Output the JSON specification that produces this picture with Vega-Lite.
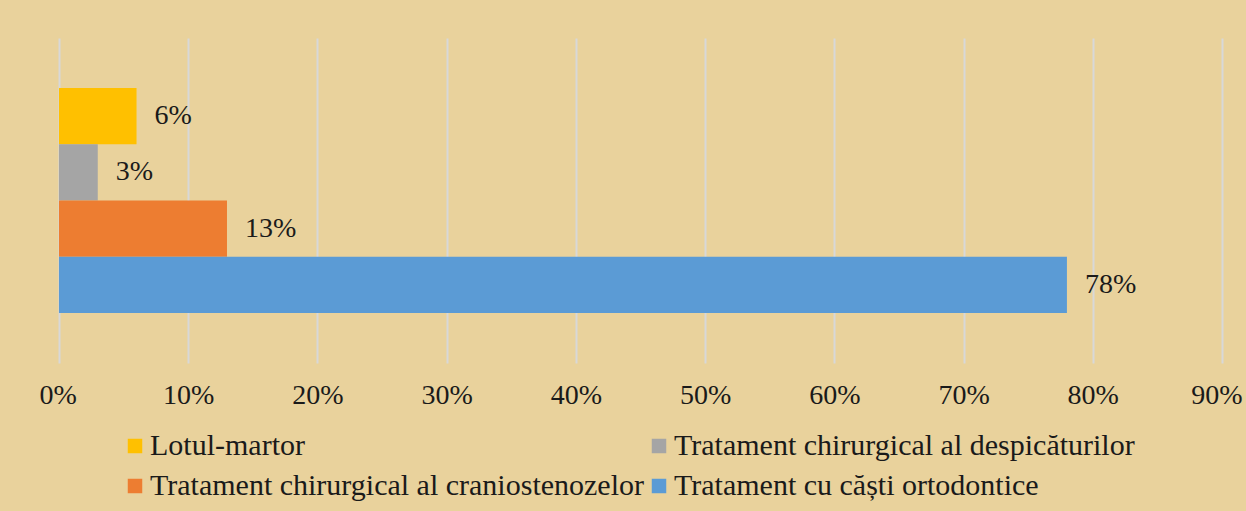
{
  "$schema": "https://vega.github.io/schema/vega-lite/v6.json",
  "width": 1163,
  "height": 325,
  "autosize": {"type": "none"},
  "padding": {"left": 59, "top": 38, "right": 24, "bottom": 148},
  "background": "#E9D29C",
  "config": {
    "view": {"stroke": null},
    "font": "Liberation Serif",
    "text": {"font": "Liberation Serif"}
  },
  "data": {
    "values": [
      {"series": "Lotul-martor", "value": 0.06},
      {"series": "Tratament chirurgical al despicăturilor", "value": 0.03},
      {"series": "Tratament chirurgical al craniostenozelor", "value": 0.13},
      {"series": "Tratament cu căști ortodontice", "value": 0.78}
    ]
  },
  "encoding": {
    "y": {
      "field": "series",
      "type": "nominal",
      "sort": ["Lotul-martor", "Tratament chirurgical al despicăturilor", "Tratament chirurgical al craniostenozelor", "Tratament cu căști ortodontice"],
      "scale": {"paddingInner": 0, "paddingOuter": 0.89},
      "axis": null
    },
    "x": {
      "field": "value",
      "type": "quantitative",
      "scale": {"domain": [0, 0.9], "nice": false},
      "axis": {
        "title": null,
        "format": ".0%",
        "values": [0, 0.1, 0.2, 0.3, 0.4, 0.5, 0.6, 0.7, 0.8, 0.9],
        "domain": false,
        "ticks": false,
        "grid": true,
        "gridColor": "#D8D8D8",
        "gridWidth": 2,
        "labelFont": "Liberation Serif",
        "labelFontSize": 28,
        "labelColor": "#1a1a1a",
        "labelPadding": 18,
        "labelFlush": true,
        "labelFlushOffset": 20
      }
    }
  },
  "layer": [
    {
      "mark": {"type": "bar"},
      "encoding": {
        "color": {
          "field": "series",
          "type": "nominal",
          "scale": {
            "domain": ["Lotul-martor", "Tratament chirurgical al despicăturilor", "Tratament chirurgical al craniostenozelor", "Tratament cu căști ortodontice"],
            "range": ["#FFC000", "#A5A5A5", "#ED7D31", "#5B9BD5"]
          },
          "legend": {
            "title": null,
            "orient": "none",
            "legendX": 61,
            "legendY": 393,
            "direction": "horizontal",
            "columns": 2,
            "columnPadding": 0,
            "rowPadding": 10,
            "symbolType": "square",
            "symbolSize": 210,
            "symbolStrokeWidth": 0,
            "labelFont": "Liberation Serif",
            "labelFontSize": 30,
            "labelColor": "#1a1a1a",
            "labelLimit": 1000,
            "labelOffset": 0,
            "padding": 0
          }
        }
      }
    },
    {
      "mark": {"type": "text", "align": "left", "baseline": "middle", "dx": 18, "fontSize": 28, "font": "Liberation Serif", "color": "#1a1a1a"},
      "encoding": {
        "text": {"field": "value", "type": "quantitative", "format": ".0%"}
      }
    }
  ]
}
